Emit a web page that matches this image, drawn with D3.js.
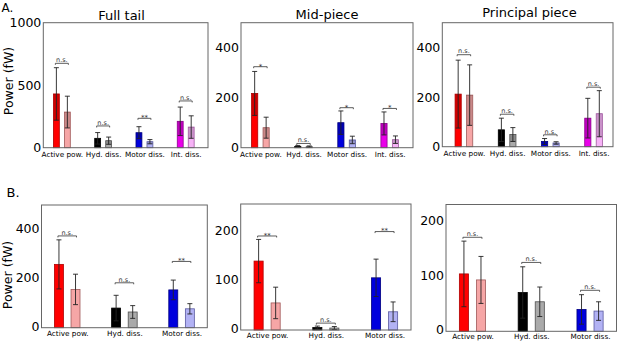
<!DOCTYPE html>
<html><head><meta charset="utf-8">
<script src="https://cdn.jsdelivr.net/npm/d3@7"></script>
<style>body{margin:0;background:#fff} svg{display:block} text{font-family:"DejaVu Sans",sans-serif}</style>
</head><body><svg id="c" width="617" height="341"></svg>
<script>
// ---------- data ----------
const categoriesA = ["Active pow.", "Hyd. diss.", "Motor diss.", "Int. diss."];
const categoriesB = ["Active pow.", "Hyd. diss.", "Motor diss."];
const titlesA = ["Full tail", "Mid-piece", "Principal piece"];

const fullTailMean1 = [430, 75, 120, 211];
const fullTailSd1   = [210, 46, 48, 114];
const fullTailMean2 = [285, 56, 48, 165];
const fullTailSd2   = [127, 29, 17, 90];
const fullTailSig   = ["n.s.", "n.s.", "**", "n.s."];
const fullTailSigLevel = [675, 174, 235, 374];

const midMean1 = [217, 5, 100, 97];
const midSd1   = [88, 4, 47, 46];
const midMean2 = [80, 4, 31, 32];
const midSd2   = [42, 3, 15, 15];
const midSig   = ["*", "n.s.", "*", "*"];
const midSigLevel = [324, 17, 160, 157];

const princMean1 = [212, 68, 21, 115];
const princSd1   = [137, 47, 12, 80];
const princMean2 = [208, 49, 15, 133];
const princSd2   = [122, 28, 5, 93];
const princSig   = ["n.s.", "n.s.", "n.s.", "n.s."];
const princSigLevel = [371, 131, 48, 240];

const b1Mean1 = [258, 80, 154];
const b1Sd1   = [100, 52, 40];
const b1Mean2 = [156, 64, 77];
const b1Sd2   = [62, 26, 21];
const b1Sig   = ["n.s.", "n.s.", "**"];
const b1SigLevel = [374, 183, 270];

const b2Mean1 = [140, 5, 106];
const b2Sd1   = [44, 3, 38];
const b2Mean2 = [55, 4, 37];
const b2Sd2   = [32, 3, 20];
const b2Sig   = ["**", "n.s.", "**"];
const b2SigLevel = [191, 14, 200];

const b3Mean1 = [105, 71, 40];
const b3Sd1   = [60, 47, 27];
const b3Mean2 = [94, 54, 37];
const b3Sd2   = [43, 27, 17];
const b3Sig   = ["n.s.", "n.s.", "n.s."];
const b3SigLevel = [172, 126, 75];

const ticksFull = [0, 500, 1000];
const ticks500 = [0, 200, 400];
const ticks200 = [0, 100, 200];

// ---------- style ----------
const fill1 = ["#ff0000", "#000000", "#0000dd", "#e800e8"];
const edge1 = ["#b00000", "#000000", "#000080", "#900090"];
const fill2 = ["#f6a6a6", "#aaaaaa", "#b2b2f4", "#f6b2f6"];
const edge2 = ["#a05a5a", "#505050", "#5a5aa0", "#a05aa0"];

const panels = [
  {title: titlesA[0], cats: categoriesA, m1: fullTailMean1, s1: fullTailSd1, m2: fullTailMean2, s2: fullTailSd2,
   sig: fullTailSig, lvl: fullTailSigLevel, ymax: 1000, ticks: ticksFull, box: [43.3, 22.7, 208, 147.7],
   xdom: [-0.45, 3.54], titleX: 121.5, titleY: 20, dark: true, bw: 0.143, off: 0.133, lab: 4, tdy: 0, cap: 5},
  {title: titlesA[1], cats: categoriesA, m1: midMean1, s1: midSd1, m2: midMean2, s2: midSd2,
   sig: midSig, lvl: midSigLevel, ymax: 500, ticks: ticks500, box: [241, 22.7, 413, 147.7],
   xdom: [-0.45, 3.54], titleX: 327, titleY: 18.5, dark: true, bw: 0.143, off: 0.133, lab: 4, tdy: 0, cap: 5},
  {title: titlesA[2], cats: categoriesA, m1: princMean1, s1: princSd1, m2: princMean2, s2: princSd2,
   sig: princSig, lvl: princSigLevel, ymax: 500, ticks: ticks500, box: [442.3, 22.7, 613, 146.7],
   xdom: [-0.5, 3.45], titleX: 529.5, titleY: 17, dark: true, bw: 0.143, off: 0.133, lab: 4, tdy: 0, cap: 5},
  {title: null, cats: categoriesB, m1: b1Mean1, s1: b1Sd1, m2: b1Mean2, s2: b1Sd2,
   sig: b1Sig, lvl: b1SigLevel, ymax: 500, ticks: ticks500, box: [41.5, 205, 207.3, 327.7],
   xdom: [-0.45, 2.45], dark: false, bw: 0.157, off: 0.145, lab: 3, tdy: -1.5, cap: 5},
  {title: null, cats: categoriesB, m1: b2Mean1, s1: b2Sd1, m2: b2Mean2, s2: b2Sd2,
   sig: b2Sig, lvl: b2SigLevel, ymax: 256, ticks: ticks200, box: [240.7, 204, 411, 330],
   xdom: [-0.45, 2.45], dark: false, bw: 0.155, off: 0.145, lab: 3, tdy: -1.5, cap: 5},
  {title: null, cats: categoriesB, m1: b3Mean1, s1: b3Sd1, m2: b3Mean2, s2: b3Sd2,
   sig: b3Sig, lvl: b3SigLevel, ymax: 232, ticks: ticks200, box: [446, 204.5, 616.5, 331.3],
   xdom: [-0.45, 2.45], dark: false, bw: 0.155, off: 0.145, lab: 3, tdy: -1.5, cap: 5}
];

const svg = d3.select("#c");

panels.forEach(p => {
  const [x0, y0, x1, y1] = p.box;
  const x = d3.scaleLinear().domain(p.xdom).range([x0, x1]);
  const y = d3.scaleLinear().domain([0, p.ymax]).range([y1, y0]);
  const g = svg.append("g");
  const idx = d3.range(p.cats.length);
  const series = [
    {m: p.m1, s: p.s1, off: -p.off, fill: fill1, edge: edge1},
    {m: p.m2, s: p.s2, off: p.off, fill: fill2, edge: edge2}
  ];
  const bwPx = x(p.bw) - x(0);

  series.forEach(se => {
    const gs = g.append("g");
    gs.selectAll("rect.bar").data(idx).join("rect").attr("class", "bar")
      .attr("x", i => x(i + se.off) - bwPx / 2)
      .attr("width", bwPx)
      .attr("y", i => y(se.m[i]))
      .attr("height", i => y(0) - y(se.m[i]))
      .attr("fill", i => se.fill[i])
      .attr("stroke", i => se.edge[i])
      .attr("stroke-width", 0.8);
    if (p.dark) {
      gs.selectAll("rect.ov").data(idx).join("rect").attr("class", "ov")
        .attr("x", i => x(i + se.off) - bwPx / 2 + 0.4)
        .attr("width", bwPx - 0.8)
        .attr("y", i => y(se.m[i]))
        .attr("height", i => y(Math.max(0, se.m[i] - se.s[i])) - y(se.m[i]))
        .attr("fill", "#000").attr("opacity", 0.18);
    }
    gs.selectAll("line.err").data(idx).join("line").attr("class", "err")
      .attr("x1", i => x(i + se.off)).attr("x2", i => x(i + se.off))
      .attr("y1", i => y(se.m[i] + se.s[i]))
      .attr("y2", i => y(Math.max(0, se.m[i] - se.s[i])))
      .attr("stroke", "#222").attr("stroke-width", 0.9);
    ["top", "bot"].forEach(k => {
      gs.selectAll("line.cap" + k).data(idx).join("line").attr("class", "cap" + k)
        .attr("x1", i => x(i + se.off) - p.cap / 2).attr("x2", i => x(i + se.off) + p.cap / 2)
        .attr("y1", i => y(k === "top" ? se.m[i] + se.s[i] : Math.max(0, se.m[i] - se.s[i])))
        .attr("y2", i => y(k === "top" ? se.m[i] + se.s[i] : Math.max(0, se.m[i] - se.s[i])))
        .attr("stroke", "#222").attr("stroke-width", 0.9);
    });
  });

  g.append("rect").attr("x", x0).attr("y", y0).attr("width", x1 - x0).attr("height", y1 - y0)
    .attr("fill", "none").attr("stroke", "#666").attr("stroke-width", 1);

  const ay = g.append("g").attr("transform", `translate(${x0},${p.tdy})`)
    .call(d3.axisLeft(y).tickValues(p.ticks).tickSize(0).tickPadding(2).tickFormat(d3.format("d")));
  ay.select(".domain").remove();
  ay.selectAll("text").attr("font-size", "12.5px").attr("font-family", "DejaVu Sans").attr("fill", "#000");

  const ax = g.append("g").attr("transform", `translate(0,${y1})`)
    .call(d3.axisBottom(x).tickValues(idx).tickSize(0).tickPadding(p.lab).tickFormat(i => p.cats[i]));
  ax.select(".domain").remove();
  ax.selectAll("text").attr("font-size", "7.3px").attr("font-family", "DejaVu Sans").attr("fill", "#000");

  const gb = g.append("g");
  idx.forEach(i => {
    const xa = x(i - p.off) - 1, xb = x(i + p.off) + 1, yy = y(p.lvl[i]);
    gb.append("path")
      .attr("d", `M${xa},${yy + 1.5}L${xa},${yy}L${xb},${yy}L${xb},${yy + 1.5}`)
      .attr("fill", "none").attr("stroke", "#333").attr("stroke-width", 0.8);
    const star = p.sig[i].startsWith("*");
    gb.append("text").attr("x", (xa + xb) / 2).attr("y", star ? yy + 1.8 : yy - 1.2)
      .attr("text-anchor", "middle").attr("font-size", star ? "7px" : "6.5px")
      .attr("fill", "#333").text(p.sig[i]);
  });

  if (p.title) {
    g.append("text").attr("x", p.titleX).attr("y", p.titleY).attr("text-anchor", "middle")
      .attr("font-size", "13px").attr("fill", "#000").text(p.title);
  }
});

svg.append("text").attr("transform", "translate(12.5,81) rotate(-90)").attr("text-anchor", "middle")
  .attr("font-size", "12.5px").attr("fill", "#000").text("Power (fW)");
svg.append("text").attr("transform", "translate(11.5,275) rotate(-90)").attr("text-anchor", "middle")
  .attr("font-size", "12.5px").attr("fill", "#000").text("Power (fW)");
svg.append("text").attr("x", 1.5).attr("y", 11.5).attr("font-size", "12px").attr("fill", "#000").text("A.");
svg.append("text").attr("x", 6.5).attr("y", 196.7).attr("font-size", "13px").attr("fill", "#000").text("B.");
</script>
</body></html>
